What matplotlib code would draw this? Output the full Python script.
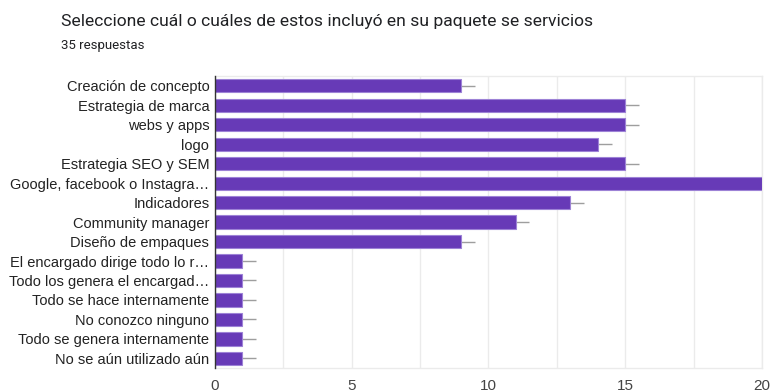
import matplotlib
matplotlib.use("Agg")
import matplotlib.pyplot as plt
from matplotlib.ticker import MultipleLocator

categories = [
    "Creación de concepto",
    "Estrategia de marca",
    "webs y apps",
    "logo",
    "Estrategia SEO y SEM",
    "Google, facebook o Instagra…",
    "Indicadores",
    "Community manager",
    "Diseño de empaques",
    "El encargado dirige todo lo r…",
    "Todo los genera el encargad…",
    "Todo se hace internamente",
    "No conozco ninguno",
    "Todo se genera internamente",
    "No se aún utilizado aún",
]
counts = [9, 15, 15, 14, 15, 20, 13, 11, 9, 1, 1, 1, 1, 1, 1]
whisker = [0.5] * len(counts)
x_ticks = [0, 5, 10, 15, 20]

fig = plt.figure(figsize=(7.7, 3.92), dpi=100)
ax = fig.add_axes([0.279, 0.061, 0.7106, 0.745])

ypos = list(range(len(categories)))
ax.barh(ypos, counts, height=0.68, color="#673ab7", edgecolor="#9d82d6",
        linewidth=0.8, zorder=3)
ax.errorbar(counts, ypos, xerr=[[0] * len(counts), whisker], fmt="none",
            ecolor="#9e9e9e", elinewidth=1.0, capsize=0, zorder=2)

ax.set_ylim(len(categories) - 0.5, -0.5)
ax.set_xlim(0, 20)
ax.set_yticks(ypos)
ax.set_yticklabels(categories, fontsize=10.5, family="Liberation Sans", color="#222222")
ax.set_xticks(x_ticks)
ax.set_xticklabels([str(t) for t in x_ticks], fontsize=11, family="Liberation Sans",
                   color="#444444")
ax.xaxis.set_minor_locator(MultipleLocator(2.5))
ax.tick_params(axis="both", which="both", length=0, pad=4)
ax.tick_params(axis="x", which="both", pad=8)
ax.grid(axis="x", which="both", color="#ebebeb", linewidth=1.0, zorder=0)

for side in ("top", "right", "bottom"):
    ax.spines[side].set_color("#ebebeb")
    ax.spines[side].set_linewidth(1.0)
ax.spines["left"].set_color("#333333")
ax.spines["left"].set_linewidth(1.0)
ax.spines["left"].set_zorder(4)

fig.text(0.079, 0.945, "Seleccione cuál o cuáles de estos incluyó en su paquete se servicios",
         fontsize=12.6, family="Roboto", color="#202124", va="center")
fig.text(0.079, 0.885, "35 respuestas", fontsize=9.5, family="Roboto",
         color="#202124", va="center")

fig.savefig("out.png", dpi=100)
